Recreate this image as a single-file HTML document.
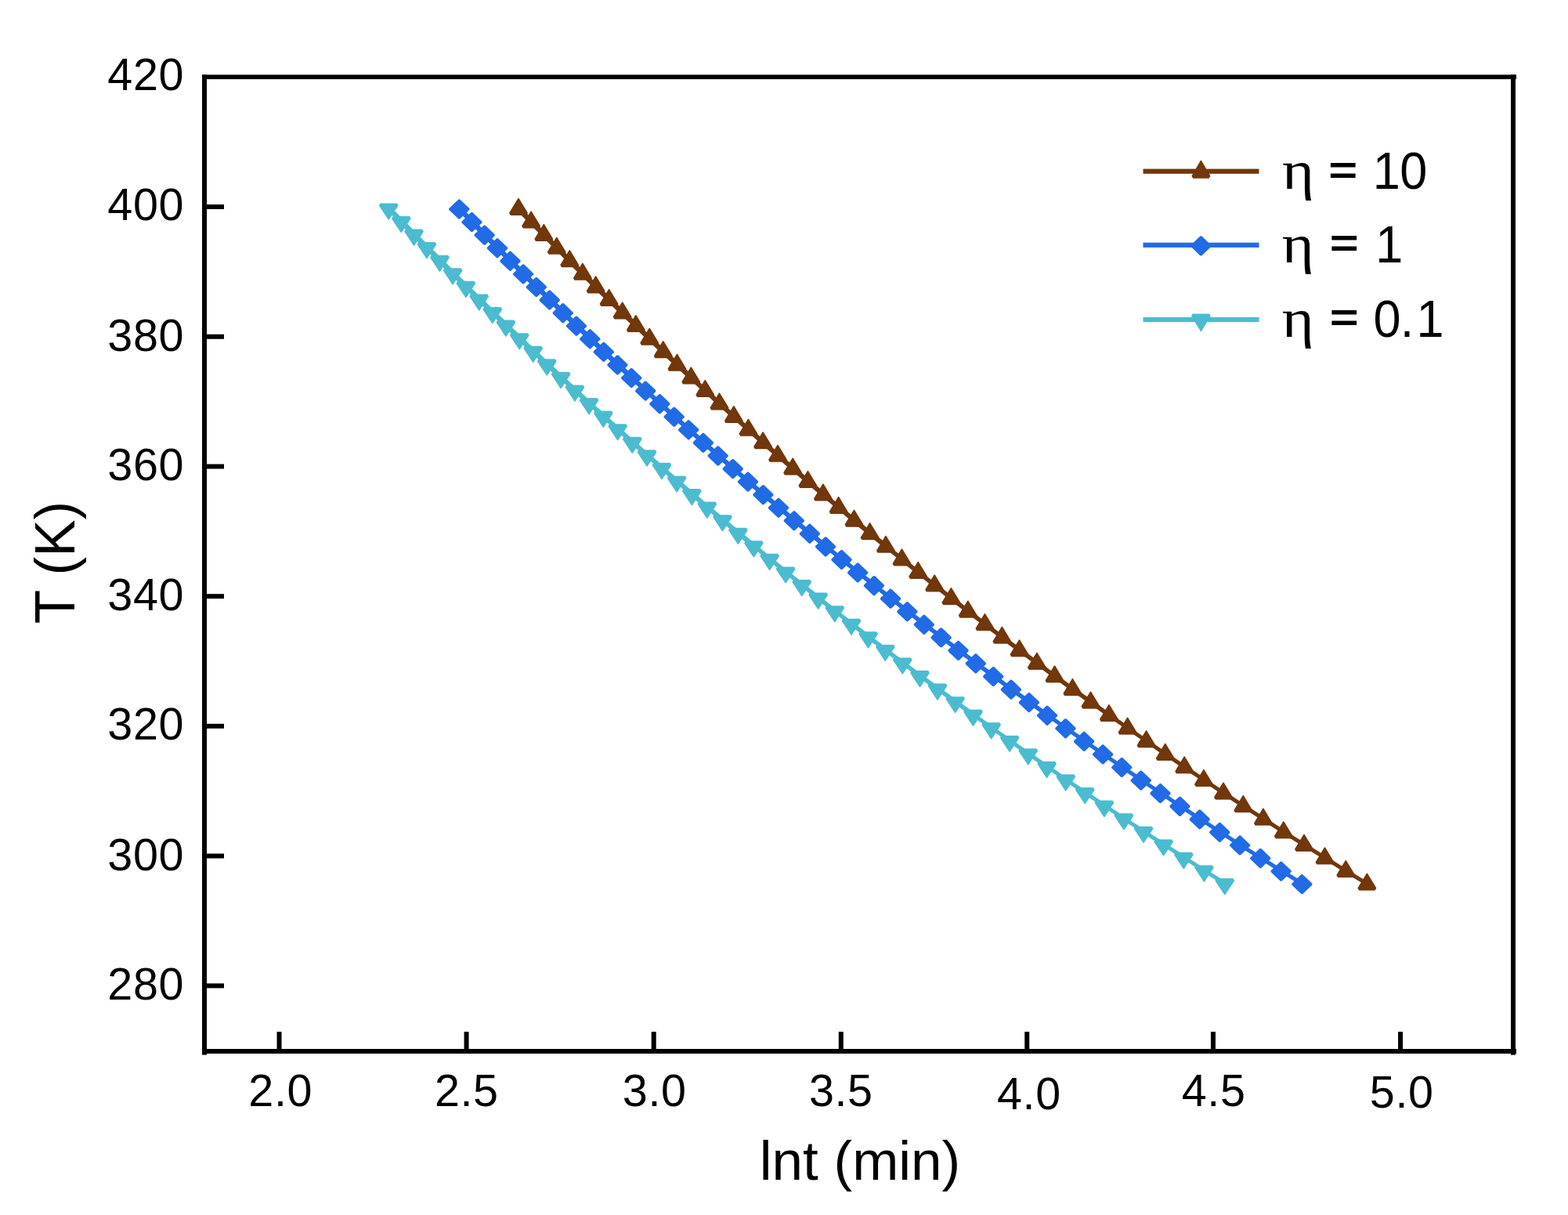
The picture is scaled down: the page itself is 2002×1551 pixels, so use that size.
<!DOCTYPE html>
<html lang="en"><head><meta charset="utf-8"><title>T (K) vs lnt (min)</title>
<style>
html,body{margin:0;padding:0;background:#fff;}
body{width:2002px;height:1551px;overflow:hidden;}
svg{display:block;}
text{font-family:"Liberation Sans",Arial,Helvetica,sans-serif;fill:#000;}
.tk{font-size:57.5px;letter-spacing:0.62px;}
.tt{font-size:71px;}
.lg{font-size:66.7px;}
.eq{font-size:50.3px;font-weight:bold;}
.eta{font-family:"Liberation Serif","Times New Roman",serif;font-size:70px;}
.mk{stroke-width:1.6;stroke-linejoin:round;}
.mkd{stroke-width:4;stroke-linejoin:round;}
.ln{fill:none;stroke-linejoin:round;stroke-linecap:butt;}
</style></head><body>
<svg width="2002" height="1551" viewBox="0 0 2002 1551">
<rect x="0" y="0" width="2002" height="1551" fill="#fff"/>
<g id="series">
<g fill="#72370A" stroke="#72370A">
<polyline class="ln" stroke-width="6.55" points="661.976,266.3 678.102,282.873 694.352,299.446 710.729,316.019 727.237,332.592 743.88,349.165 760.661,365.738 777.583,382.311 794.651,398.884 811.868,415.457 829.239,432.03 846.765,448.603 864.452,465.176 882.303,481.749"/>
<polyline class="ln" stroke-width="6.05" points="882.303,481.749 900.321,498.322 918.51,514.895 936.874,531.468 955.417,548.041 974.142,564.614 993.053,581.187 1012.153,597.76 1031.447,614.333 1050.937,630.906 1070.628,647.479 1090.524,664.052 1110.627,680.625 1130.941,697.198"/>
<polyline class="ln" stroke-width="5.55" points="1130.941,697.198 1151.471,713.771 1172.22,730.344 1193.191,746.917 1214.388,763.49 1235.816,780.063 1257.476,796.636 1279.374,813.209 1301.513,829.782 1323.897,846.355 1346.529,862.928 1369.412,879.501 1392.551,896.074 1415.95,912.647"/>
<polyline class="ln" stroke-width="5.05" points="1415.95,912.647 1439.611,929.22 1463.539,945.793 1487.737,962.366 1512.209,978.939 1536.958,995.512 1561.989,1012.085 1587.304,1028.658 1612.909,1045.231 1638.805,1061.804 1664.997,1078.377 1691.489,1094.95 1718.284,1111.523 1745.386,1128.096"/>
<path class="mk" d="M661.976 253.6L673.076 271.94L671.836 274.14L652.116 274.14L650.876 271.94Z M678.102 270.173L689.202 288.513L687.962 290.713L668.242 290.713L667.002 288.513Z M694.352 286.746L705.452 305.086L704.212 307.286L684.492 307.286L683.252 305.086Z M710.729 303.319L721.829 321.659L720.589 323.859L700.869 323.859L699.629 321.659Z M727.237 319.892L738.337 338.232L737.097 340.432L717.377 340.432L716.137 338.232Z M743.88 336.465L754.98 354.805L753.74 357.005L734.02 357.005L732.78 354.805Z M760.661 353.038L771.761 371.378L770.521 373.578L750.801 373.578L749.561 371.378Z M777.583 369.611L788.683 387.951L787.443 390.151L767.723 390.151L766.483 387.951Z M794.651 386.184L805.751 404.524L804.511 406.724L784.791 406.724L783.551 404.524Z M811.868 402.757L822.968 421.097L821.728 423.297L802.008 423.297L800.768 421.097Z M829.239 419.33L840.339 437.67L839.099 439.87L819.379 439.87L818.139 437.67Z M846.765 435.903L857.865 454.243L856.625 456.443L836.905 456.443L835.665 454.243Z M864.452 452.476L875.552 470.816L874.312 473.016L854.592 473.016L853.352 470.816Z M882.303 469.049L893.403 487.389L892.163 489.589L872.443 489.589L871.203 487.389Z M900.321 485.622L911.421 503.962L910.181 506.162L890.461 506.162L889.221 503.962Z M918.51 502.195L929.61 520.535L928.37 522.735L908.65 522.735L907.41 520.535Z M936.874 518.768L947.974 537.108L946.734 539.308L927.014 539.308L925.774 537.108Z M955.417 535.341L966.517 553.681L965.277 555.881L945.557 555.881L944.317 553.681Z M974.142 551.914L985.242 570.254L984.002 572.454L964.282 572.454L963.042 570.254Z M993.053 568.487L1004.153 586.827L1002.913 589.027L983.193 589.027L981.953 586.827Z M1012.153 585.06L1023.253 603.4L1022.013 605.6L1002.293 605.6L1001.053 603.4Z M1031.447 601.633L1042.547 619.973L1041.307 622.173L1021.587 622.173L1020.347 619.973Z M1050.937 618.206L1062.037 636.546L1060.797 638.746L1041.077 638.746L1039.837 636.546Z M1070.628 634.779L1081.728 653.119L1080.488 655.319L1060.768 655.319L1059.528 653.119Z M1090.524 651.352L1101.624 669.692L1100.384 671.892L1080.664 671.892L1079.424 669.692Z M1110.627 667.925L1121.727 686.265L1120.487 688.465L1100.767 688.465L1099.527 686.265Z M1130.941 684.498L1142.041 702.838L1140.801 705.038L1121.081 705.038L1119.841 702.838Z M1151.471 701.071L1162.571 719.411L1161.331 721.611L1141.611 721.611L1140.371 719.411Z M1172.22 717.644L1183.32 735.984L1182.08 738.184L1162.36 738.184L1161.12 735.984Z M1193.191 734.217L1204.291 752.557L1203.051 754.757L1183.331 754.757L1182.091 752.557Z M1214.388 750.79L1225.488 769.13L1224.248 771.33L1204.528 771.33L1203.288 769.13Z M1235.816 767.363L1246.916 785.703L1245.676 787.903L1225.956 787.903L1224.716 785.703Z M1257.476 783.936L1268.576 802.276L1267.336 804.476L1247.616 804.476L1246.376 802.276Z M1279.374 800.509L1290.474 818.849L1289.234 821.049L1269.514 821.049L1268.274 818.849Z M1301.513 817.082L1312.613 835.422L1311.373 837.622L1291.653 837.622L1290.413 835.422Z M1323.897 833.655L1334.997 851.995L1333.757 854.195L1314.037 854.195L1312.797 851.995Z M1346.529 850.228L1357.629 868.568L1356.389 870.768L1336.669 870.768L1335.429 868.568Z M1369.412 866.801L1380.512 885.141L1379.272 887.341L1359.552 887.341L1358.312 885.141Z M1392.551 883.374L1403.651 901.714L1402.411 903.914L1382.691 903.914L1381.451 901.714Z M1415.95 899.947L1427.05 918.287L1425.81 920.487L1406.09 920.487L1404.85 918.287Z M1439.611 916.52L1450.711 934.86L1449.471 937.06L1429.751 937.06L1428.511 934.86Z M1463.539 933.093L1474.639 951.433L1473.399 953.633L1453.679 953.633L1452.439 951.433Z M1487.737 949.666L1498.837 968.006L1497.597 970.206L1477.877 970.206L1476.637 968.006Z M1512.209 966.239L1523.309 984.579L1522.069 986.779L1502.349 986.779L1501.109 984.579Z M1536.958 982.812L1548.058 1001.152L1546.818 1003.352L1527.098 1003.352L1525.858 1001.152Z M1561.989 999.385L1573.089 1017.725L1571.849 1019.925L1552.129 1019.925L1550.889 1017.725Z M1587.304 1015.958L1598.404 1034.298L1597.164 1036.498L1577.444 1036.498L1576.204 1034.298Z M1612.909 1032.531L1624.009 1050.871L1622.769 1053.071L1603.049 1053.071L1601.809 1050.871Z M1638.805 1049.104L1649.905 1067.444L1648.665 1069.644L1628.945 1069.644L1627.705 1067.444Z M1664.997 1065.677L1676.097 1084.017L1674.857 1086.217L1655.137 1086.217L1653.897 1084.017Z M1691.489 1082.25L1702.589 1100.59L1701.349 1102.79L1681.629 1102.79L1680.389 1100.59Z M1718.284 1098.823L1729.384 1117.163L1728.144 1119.363L1708.424 1119.363L1707.184 1117.163Z M1745.386 1115.396L1756.486 1133.736L1755.246 1135.936L1735.526 1135.936L1734.286 1133.736Z"/>
</g>
<g fill="#216BE6" stroke="#216BE6">
<polyline class="ln" stroke-width="6.55" points="586.339,266.2 602.427,282.773 618.641,299.346 634.985,315.919 651.461,332.492 668.072,349.065 684.823,365.638 701.716,382.211 718.754,398.784 735.941,415.357 753.281,431.93 770.775,448.503 788.429,465.076 806.244,481.649"/>
<polyline class="ln" stroke-width="6.05" points="806.244,481.649 824.225,498.222 842.374,514.795 860.695,531.368 879.191,547.941 897.865,564.514 916.721,581.087 935.762,597.66 954.992,614.233 974.412,630.806 994.028,647.379 1013.841,663.952 1033.856,680.525 1054.075,697.098"/>
<polyline class="ln" stroke-width="5.55" points="1054.075,697.098 1074.502,713.671 1095.14,730.244 1115.993,746.817 1137.064,763.39 1158.355,779.963 1179.871,796.536 1201.614,813.109 1223.588,829.682 1245.797,846.255 1268.242,862.828 1290.928,879.401 1313.859,895.974 1337.036,912.547"/>
<polyline class="ln" stroke-width="5.05" points="1337.036,912.547 1360.464,929.12 1384.146,945.693 1408.085,962.266 1432.284,978.839 1456.747,995.412 1481.476,1011.985 1506.476,1028.558 1531.75,1045.131 1557.3,1061.704 1583.13,1078.277 1609.243,1094.85 1635.643,1111.423 1662.333,1127.996"/>
<path class="mkd" d="M586.339 256.4L597.439 267L586.339 277.6L575.239 267Z M602.427 272.973L613.527 283.573L602.427 294.173L591.327 283.573Z M618.641 289.546L629.741 300.146L618.641 310.746L607.541 300.146Z M634.985 306.119L646.085 316.719L634.985 327.319L623.885 316.719Z M651.461 322.692L662.561 333.292L651.461 343.892L640.361 333.292Z M668.072 339.265L679.172 349.865L668.072 360.465L656.972 349.865Z M684.823 355.838L695.923 366.438L684.823 377.038L673.723 366.438Z M701.716 372.411L712.816 383.011L701.716 393.611L690.616 383.011Z M718.754 388.984L729.854 399.584L718.754 410.184L707.654 399.584Z M735.941 405.557L747.041 416.157L735.941 426.757L724.841 416.157Z M753.281 422.13L764.381 432.73L753.281 443.33L742.181 432.73Z M770.775 438.703L781.875 449.303L770.775 459.903L759.675 449.303Z M788.429 455.276L799.529 465.876L788.429 476.476L777.329 465.876Z M806.244 471.849L817.344 482.449L806.244 493.049L795.144 482.449Z M824.225 488.422L835.325 499.022L824.225 509.622L813.125 499.022Z M842.374 504.995L853.474 515.595L842.374 526.195L831.274 515.595Z M860.695 521.568L871.795 532.168L860.695 542.768L849.595 532.168Z M879.191 538.141L890.291 548.741L879.191 559.341L868.091 548.741Z M897.865 554.714L908.965 565.314L897.865 575.914L886.765 565.314Z M916.721 571.287L927.821 581.887L916.721 592.487L905.621 581.887Z M935.762 587.86L946.862 598.46L935.762 609.06L924.662 598.46Z M954.992 604.433L966.092 615.033L954.992 625.633L943.892 615.033Z M974.412 621.006L985.512 631.606L974.412 642.206L963.312 631.606Z M994.028 637.579L1005.128 648.179L994.028 658.779L982.928 648.179Z M1013.841 654.152L1024.941 664.752L1013.841 675.352L1002.741 664.752Z M1033.856 670.725L1044.956 681.325L1033.856 691.925L1022.756 681.325Z M1054.075 687.298L1065.175 697.898L1054.075 708.498L1042.975 697.898Z M1074.502 703.871L1085.602 714.471L1074.502 725.071L1063.402 714.471Z M1095.14 720.444L1106.24 731.044L1095.14 741.644L1084.04 731.044Z M1115.993 737.017L1127.093 747.617L1115.993 758.217L1104.893 747.617Z M1137.064 753.59L1148.164 764.19L1137.064 774.79L1125.964 764.19Z M1158.355 770.163L1169.455 780.763L1158.355 791.363L1147.255 780.763Z M1179.871 786.736L1190.971 797.336L1179.871 807.936L1168.771 797.336Z M1201.614 803.309L1212.714 813.909L1201.614 824.509L1190.514 813.909Z M1223.588 819.882L1234.688 830.482L1223.588 841.082L1212.488 830.482Z M1245.797 836.455L1256.897 847.055L1245.797 857.655L1234.697 847.055Z M1268.242 853.028L1279.342 863.628L1268.242 874.228L1257.142 863.628Z M1290.928 869.601L1302.028 880.201L1290.928 890.801L1279.828 880.201Z M1313.859 886.174L1324.959 896.774L1313.859 907.374L1302.759 896.774Z M1337.036 902.747L1348.136 913.347L1337.036 923.947L1325.936 913.347Z M1360.464 919.32L1371.564 929.92L1360.464 940.52L1349.364 929.92Z M1384.146 935.893L1395.246 946.493L1384.146 957.093L1373.046 946.493Z M1408.085 952.466L1419.185 963.066L1408.085 973.666L1396.985 963.066Z M1432.284 969.039L1443.384 979.639L1432.284 990.239L1421.184 979.639Z M1456.747 985.612L1467.847 996.212L1456.747 1006.812L1445.647 996.212Z M1481.476 1002.185L1492.576 1012.785L1481.476 1023.385L1470.376 1012.785Z M1506.476 1018.758L1517.576 1029.358L1506.476 1039.958L1495.376 1029.358Z M1531.75 1035.331L1542.85 1045.931L1531.75 1056.531L1520.65 1045.931Z M1557.3 1051.904L1568.4 1062.504L1557.3 1073.104L1546.2 1062.504Z M1583.13 1068.477L1594.23 1079.077L1583.13 1089.677L1572.03 1079.077Z M1609.243 1085.05L1620.343 1095.65L1609.243 1106.25L1598.143 1095.65Z M1635.643 1101.623L1646.743 1112.223L1635.643 1122.823L1624.543 1112.223Z M1662.333 1118.196L1673.433 1128.796L1662.333 1139.396L1651.233 1128.796Z"/>
</g>
<g fill="#4BBCD0" stroke="#4BBCD0">
<polyline class="ln" stroke-width="6.55" points="496.161,265.8 512.306,282.373 528.567,298.946 544.948,315.519 561.452,332.092 578.082,348.665 594.842,365.238 611.735,381.811 628.765,398.384 645.934,414.957 663.246,431.53 680.704,448.103 698.312,464.676 716.074,481.249"/>
<polyline class="ln" stroke-width="6.05" points="716.074,481.249 733.991,497.822 752.069,514.395 770.309,530.968 788.716,547.541 807.293,564.114 826.043,580.687 844.969,597.26 864.075,613.833 883.364,630.406 902.84,646.979 922.506,663.552 942.364,680.125 962.42,696.698"/>
<polyline class="ln" stroke-width="5.55" points="962.42,696.698 982.675,713.271 1003.133,729.844 1023.798,746.417 1044.672,762.99 1065.76,779.563 1087.064,796.136 1108.589,812.709 1130.336,829.282 1152.31,845.855 1174.514,862.428 1196.951,879.001 1219.625,895.574 1242.539,912.147"/>
<polyline class="ln" stroke-width="5.05" points="1242.539,912.147 1265.696,928.72 1289.099,945.293 1312.753,961.866 1336.66,978.439 1360.823,995.012 1385.247,1011.585 1409.934,1028.158 1434.887,1044.731 1460.11,1061.304 1485.607,1077.877 1511.381,1094.45 1537.434,1111.023 1563.771,1127.596"/>
<path class="mk" d="M496.161 279.84L484.661 262.4L485.901 260.2L506.421 260.2L507.661 262.4Z M512.306 296.413L500.806 278.973L502.046 276.773L522.566 276.773L523.806 278.973Z M528.567 312.986L517.067 295.546L518.307 293.346L538.827 293.346L540.067 295.546Z M544.948 329.559L533.448 312.119L534.688 309.919L555.208 309.919L556.448 312.119Z M561.452 346.132L549.952 328.692L551.192 326.492L571.712 326.492L572.952 328.692Z M578.082 362.705L566.582 345.265L567.822 343.065L588.342 343.065L589.582 345.265Z M594.842 379.278L583.342 361.838L584.582 359.638L605.102 359.638L606.342 361.838Z M611.735 395.851L600.235 378.411L601.475 376.211L621.995 376.211L623.235 378.411Z M628.765 412.424L617.265 394.984L618.505 392.784L639.025 392.784L640.265 394.984Z M645.934 428.997L634.434 411.557L635.674 409.357L656.194 409.357L657.434 411.557Z M663.246 445.57L651.746 428.13L652.986 425.93L673.506 425.93L674.746 428.13Z M680.704 462.143L669.204 444.703L670.444 442.503L690.964 442.503L692.204 444.703Z M698.312 478.716L686.812 461.276L688.052 459.076L708.572 459.076L709.812 461.276Z M716.074 495.289L704.574 477.849L705.814 475.649L726.334 475.649L727.574 477.849Z M733.991 511.862L722.491 494.422L723.731 492.222L744.251 492.222L745.491 494.422Z M752.069 528.435L740.569 510.995L741.809 508.795L762.329 508.795L763.569 510.995Z M770.309 545.008L758.809 527.568L760.049 525.368L780.569 525.368L781.809 527.568Z M788.716 561.581L777.216 544.141L778.456 541.941L798.976 541.941L800.216 544.141Z M807.293 578.154L795.793 560.714L797.033 558.514L817.553 558.514L818.793 560.714Z M826.043 594.727L814.543 577.287L815.783 575.087L836.303 575.087L837.543 577.287Z M844.969 611.3L833.469 593.86L834.709 591.66L855.229 591.66L856.469 593.86Z M864.075 627.873L852.575 610.433L853.815 608.233L874.335 608.233L875.575 610.433Z M883.364 644.446L871.864 627.006L873.104 624.806L893.624 624.806L894.864 627.006Z M902.84 661.019L891.34 643.579L892.58 641.379L913.1 641.379L914.34 643.579Z M922.506 677.592L911.006 660.152L912.246 657.952L932.766 657.952L934.006 660.152Z M942.364 694.165L930.864 676.725L932.104 674.525L952.624 674.525L953.864 676.725Z M962.42 710.738L950.92 693.298L952.16 691.098L972.68 691.098L973.92 693.298Z M982.675 727.311L971.175 709.871L972.415 707.671L992.935 707.671L994.175 709.871Z M1003.133 743.884L991.633 726.444L992.873 724.244L1013.393 724.244L1014.633 726.444Z M1023.798 760.457L1012.298 743.017L1013.538 740.817L1034.058 740.817L1035.298 743.017Z M1044.672 777.03L1033.172 759.59L1034.412 757.39L1054.932 757.39L1056.172 759.59Z M1065.76 793.603L1054.26 776.163L1055.5 773.963L1076.02 773.963L1077.26 776.163Z M1087.064 810.176L1075.564 792.736L1076.804 790.536L1097.324 790.536L1098.564 792.736Z M1108.589 826.749L1097.089 809.309L1098.329 807.109L1118.849 807.109L1120.089 809.309Z M1130.336 843.322L1118.836 825.882L1120.076 823.682L1140.596 823.682L1141.836 825.882Z M1152.31 859.895L1140.81 842.455L1142.05 840.255L1162.57 840.255L1163.81 842.455Z M1174.514 876.468L1163.014 859.028L1164.254 856.828L1184.774 856.828L1186.014 859.028Z M1196.951 893.041L1185.451 875.601L1186.691 873.401L1207.211 873.401L1208.451 875.601Z M1219.625 909.614L1208.125 892.174L1209.365 889.974L1229.885 889.974L1231.125 892.174Z M1242.539 926.187L1231.039 908.747L1232.279 906.547L1252.799 906.547L1254.039 908.747Z M1265.696 942.76L1254.196 925.32L1255.436 923.12L1275.956 923.12L1277.196 925.32Z M1289.099 959.333L1277.599 941.893L1278.839 939.693L1299.359 939.693L1300.599 941.893Z M1312.753 975.906L1301.253 958.466L1302.493 956.266L1323.013 956.266L1324.253 958.466Z M1336.66 992.479L1325.16 975.039L1326.4 972.839L1346.92 972.839L1348.16 975.039Z M1360.823 1009.052L1349.323 991.612L1350.563 989.412L1371.083 989.412L1372.323 991.612Z M1385.247 1025.625L1373.747 1008.185L1374.987 1005.985L1395.507 1005.985L1396.747 1008.185Z M1409.934 1042.198L1398.434 1024.758L1399.674 1022.558L1420.194 1022.558L1421.434 1024.758Z M1434.887 1058.771L1423.387 1041.331L1424.627 1039.131L1445.147 1039.131L1446.387 1041.331Z M1460.11 1075.344L1448.61 1057.904L1449.85 1055.704L1470.37 1055.704L1471.61 1057.904Z M1485.607 1091.917L1474.107 1074.477L1475.347 1072.277L1495.867 1072.277L1497.107 1074.477Z M1511.381 1108.49L1499.881 1091.05L1501.121 1088.85L1521.641 1088.85L1522.881 1091.05Z M1537.434 1125.063L1525.934 1107.623L1527.174 1105.423L1547.694 1105.423L1548.934 1107.623Z M1563.771 1141.636L1552.271 1124.196L1553.511 1121.996L1574.031 1121.996L1575.271 1124.196Z"/>
</g>
</g>
<g id="frame" fill="#000">
<rect x="258" y="95.4" width="6" height="1251.2"/>
<rect x="1929" y="95.4" width="6" height="1251.3"/>
<rect x="258" y="95.4" width="1678" height="5.7"/>
<rect x="258" y="1339" width="1678" height="6"/>
<rect x="264" y="1255.4" width="22" height="6"/>
<rect x="264" y="1089.667" width="22" height="6"/>
<rect x="264" y="923.933" width="22" height="6"/>
<rect x="264" y="758.2" width="22" height="6"/>
<rect x="264" y="592.467" width="22" height="6"/>
<rect x="264" y="426.733" width="22" height="6"/>
<rect x="264" y="261" width="22" height="6"/>
<rect x="353.5" y="1317.1" width="6" height="22"/>
<rect x="592.55" y="1317.1" width="6" height="22"/>
<rect x="831.7" y="1317.1" width="6" height="22"/>
<rect x="1070.8" y="1317.1" width="6" height="22"/>
<rect x="1308.25" y="1317.1" width="6" height="22"/>
<rect x="1545.95" y="1317.1" width="6" height="22"/>
<rect x="1785.05" y="1317.1" width="6" height="22"/>
</g>
<g id="ticklabels" class="tk">
<text x="137.3" y="1276.1">280</text>
<text x="137.3" y="1110.967">300</text>
<text x="137.3" y="943.933">320</text>
<text x="137.3" y="778.8">340</text>
<text x="137.3" y="612.767">360</text>
<text x="137.3" y="448.033">380</text>
<text x="137.3" y="281">400</text>
<text x="137.3" y="115.267">420</text>
<text x="317.3" y="1412.4">2.0</text>
<text x="554.892" y="1412">2.5</text>
<text x="794.783" y="1412.1">3.0</text>
<text x="1032.875" y="1412.4">3.5</text>
<text x="1272.967" y="1415.5">4.0</text>
<text x="1508.758" y="1411.9">4.5</text>
<text x="1748.85" y="1413.7">5.0</text>
</g>
<g id="titles" class="tt">
<text x="1098" y="1506" text-anchor="middle">lnt (min)</text>
<text transform="translate(95.3 718) rotate(-90) scale(1 1.022)" text-anchor="middle">T (K)</text>
</g>
<g id="legend">
<g fill="#72370A" stroke="#72370A"><rect x="1459.5" y="215.6" width="148" height="6.2" stroke="none"/>
<path class="mk" d="M1533.4 205.36L1544.5 224.7L1543.26 226.9L1523.54 226.9L1522.3 224.7Z"/></g>
<text class="eta" transform="translate(1636.877 240.9) scale(1.12 1)">η</text>
<text class="eq" transform="translate(1696.27 234.8) scale(1.26 1)">=</text>
<text class="lg" transform="translate(0 240.9) scale(0.945 1)" x="1854.796 1891.36" y="0">10</text>
<g fill="#216BE6" stroke="#216BE6"><rect x="1459.5" y="309.7" width="148" height="6.2" stroke="none"/>
<path class="mkd" d="M1533.4 303.3L1544.5 313.9L1533.4 324.5L1522.3 313.9Z"/></g>
<text class="eta" transform="translate(1636.777 334.5) scale(1.12 1)">η</text>
<text class="eq" transform="translate(1697.77 328.4) scale(1.26 1)">=</text>
<text class="lg" transform="translate(0 334.5) scale(0.945 1)" x="1858.394" y="0">1</text>
<g fill="#4BBCD0" stroke="#4BBCD0"><rect x="1459.5" y="404.9" width="148" height="6.2" stroke="none"/>
<path class="mk" d="M1533.4 422.44L1521.9 403.4L1523.14 401.2L1543.66 401.2L1544.9 403.4Z"/></g>
<text class="eta" transform="translate(1636.777 429.5) scale(1.12 1)">η</text>
<text class="eq" transform="translate(1697.87 423.4) scale(1.26 1)">=</text>
<text class="lg" transform="translate(0 429.5) scale(0.945 1)" x="1855.487 1891.794 1913.843" y="0">0.1</text>
</g>
</svg>
</body></html>
